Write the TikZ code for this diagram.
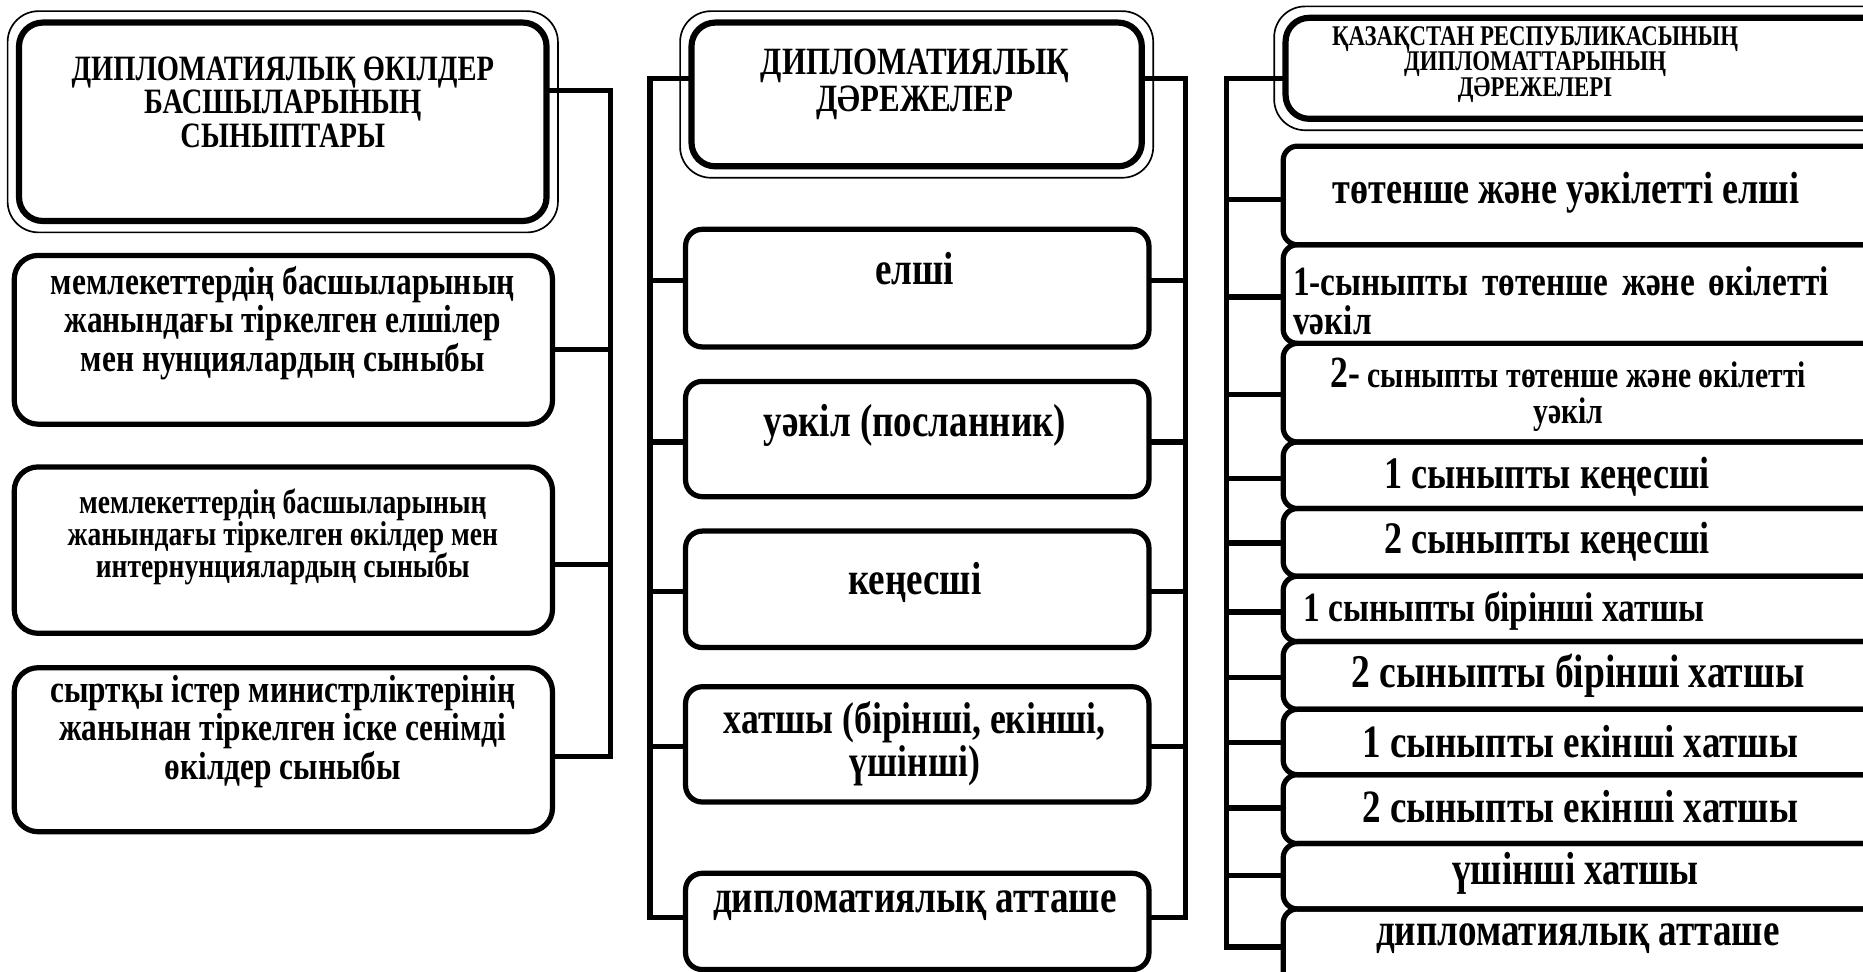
\documentclass[tikz,border=0pt]{standalone}
\usepackage{fontspec}
\setmainfont{Liberation Serif}[FakeStretch=0.8]
\usetikzlibrary{fit,calc}
\newcommand\fs[2]{\fontsize{#1}{#2}\selectfont\bfseries}
\newcommand\tightlines{\lineskiplimit=-20pt\lineskip=0pt}
\begin{document}
\begin{tikzpicture}[x=0.5pt,y=-0.5pt,
  box/.style={draw, line width=2.2pt, inner sep=0pt, rounded corners=10pt},
  cbox/.style={draw, line width=2.2pt, inner sep=0pt, rounded corners=7pt},
  rbox/.style={draw, line width=2.2pt, inner sep=0pt, rounded corners=6pt},
  hbox/.style={draw, line width=2.6pt, inner sep=0pt, rounded corners=10pt},
  outer/.style={line width=0.7pt, rounded corners=13pt},
  conn/.style={line width=2.2pt, line join=miter, line cap=rect},
  txt/.style={align=center, inner sep=0pt},
]
\useasboundingbox (0,0) rectangle (1568,818);
\clip (0,0) rectangle (1568,818);

% ---------- left column ----------
\node[hbox, fit={(16,19) (460,186)}] (LH) {};
\draw[outer] ($(LH.north west)+(-3.5pt,3.5pt)$) rectangle ($(LH.south east)+(3.5pt,-3.5pt)$);
\node[txt, font=\fs{15}{13}] (LHt) at (238,86) {ДИПЛОМАТИЯЛЫҚ ӨКІЛДЕР\\БАСШЫЛАРЫНЫҢ\\СЫНЫПТАРЫ};

\node[box, fit={(12,215) (465,357)}] (L1) {};
\node[txt, font=\fs{16.5}{13.75}] (L1t) at (238,272) {мемлекеттердің басшыларының\\жанындағы тіркелген елшілер\\мен нунциялардың сыныбы};
\node[box, fit={(12,393) (465,533)}] (L2) {};
\node[txt, font=\fs{14.5}{13.5}] (L2t) at (238,452) {мемлекеттердің басшыларының\\жанындағы тіркелген өкілдер мен\\интернунциялардың сыныбы};
\node[box, fit={(12,562) (465,700)}] (L3) {};
\node[txt, font=\fs{16.5}{14.5}] (L3t) at (238,616) {сыртқы істер министрліктерінің\\жанынан тіркелген іске сенімді\\өкілдер сыныбы};

\coordinate (LVt) at (514,76);
\coordinate (LV1) at (514,294);
\coordinate (LV2) at (514,475);
\coordinate (LVb) at (514,637);
\draw[conn] (LH.east |- LVt) -- (LVt) -- (LVb) -- (L3.east |- LVb);
\draw[conn] (L1.east |- LV1) -- (LV1);
\draw[conn] (L2.east |- LV2) -- (LV2);

% ---------- centre column ----------
\node[hbox, fit={(582,19) (961,140)}] (CH) {};
\draw[outer] ($(CH.north west)+(-3.5pt,3.5pt)$) rectangle ($(CH.south east)+(3.5pt,-3.5pt)$);
\node[txt, font=\fs{16.25}{13}] (CHt) at (770,71) {ДИПЛОМАТИЯЛЫҚ\\ДӘРЕЖЕЛЕР};

\node[cbox, fit={(577,193) (967,292)}] (C1) {};
\node[txt, font=\fs{19.5}{14}] (C1t) at (770,226) {елші};
\node[cbox, fit={(577,321) (967,418)}] (C2) {};
\node[txt, font=\fs{19.5}{14}] (C2t) at (770,358) {уәкіл (посланник)};
\node[cbox, fit={(577,447) (967,545)}] (C3) {};
\node[txt, font=\fs{19.5}{14}] (C3t) at (770,490) {кеңесші};
\node[cbox, fit={(577,578) (967,675)}] (C4) {};
\node[txt, font=\fs{18.75}{15}] (C4t) at (770,626) {хатшы (бірінші, екінші,\\үшінші)};
\node[cbox, fit={(577,735) (967,816)}] (C5) {};
\node[txt, font=\fs{19.5}{14}] (C5t) at (770,762) {дипломатиялық атташе};

\coordinate (CLt) at (547,66);
\coordinate (CLb) at (547,772);
\coordinate (CRt) at (998,66);
\coordinate (CRb) at (998,772);
\draw[conn] (CH.west |- CLt) -- (CLt) -- (CLb) -- (C5.west |- CLb);
\draw[conn] (CH.east |- CRt) -- (CRt) -- (CRb) -- (C5.east |- CRb);
\foreach \n/\yy in {C1/236, C2/372, C3/498, C4/628}{
  \coordinate (\n l) at (547,\yy);
  \coordinate (\n r) at (998,\yy);
  \draw[conn] (\n l) -- (\n.west |- \n l);
  \draw[conn] (\n.east |- \n r) -- (\n r);
}

% ---------- right column ----------
\node[hbox, fit={(1082,15) (1600,100)}] (RH) {};
\draw[outer] ($(RH.north west)+(-3.5pt,3.5pt)$) rectangle ($(RH.south east)+(3.5pt,-3.5pt)$);
\node[txt, font=\fs{12}{10.75}\tightlines] (RHt) at (1292,54) {ҚАЗАҚСТАН РЕСПУБЛИКАСЫНЫҢ\\ДИПЛОМАТТАРЫНЫҢ\\ДӘРЕЖЕЛЕРІ};

\node[rbox, fit={(1080,123) (1600,206)}] (R1) {};
\node[txt, font=\fs{19}{14}] (R1t) at (1318,162) {төтенше және уәкілетті елші};
\node[rbox, fit={(1080,206) (1600,289)}] (R2) {};
\node[txt, font=\fs{17.5}{16.5}, text width=221pt, align=left, anchor=west] (R2t) at (1088,253)
  {\makebox[221pt][s]{1-сыныпты төтенше және өкілетті}\\vәкіл};
\node[rbox, fit={(1080,289) (1600,372)}] (R3) {};
\node[txt, font=\fs{15.6}{15}] (R3t) at (1320,332) {{\fontsize{18.75}{15}\selectfont 2-} сыныпты төтенше және өкілетті\\уәкіл};
\node[rbox, fit={(1080,372) (1600,428)}] (R4) {};
\node[txt, font=\fs{19}{14}] (R4t) at (1302,401) {1 сыныпты кеңесші};
\node[rbox, fit={(1080,428) (1600,485)}] (R5) {};
\node[txt, font=\fs{19}{14}] (R5t) at (1302,456) {2 сыныпты кеңесші};
\node[rbox, fit={(1080,485) (1600,540)}] (R6) {};
\node[txt, font=\fs{17.5}{14}] (R6t) at (1266,514) {1 сыныпты бірінші хатшы};
\node[rbox, fit={(1080,540) (1600,597)}] (R7) {};
\node[txt, font=\fs{19.75}{14}] (R7t) at (1328,569) {2 сыныпты бірінші хатшы};
\node[rbox, fit={(1080,597) (1600,652)}] (R8) {};
\node[txt, font=\fs{19.5}{14}] (R8t) at (1330,624) {1 сыныпты екінші хатшы};
\node[rbox, fit={(1080,652) (1600,710)}] (R9) {};
\node[txt, font=\fs{19.5}{14}] (R9t) at (1330,679) {2 сыныпты екінші хатшы};
\node[rbox, fit={(1080,710) (1600,765)}] (R10) {};
\node[txt, font=\fs{19.5}{14}] (R10t) at (1326,735) {үшінші хатшы};
\node[rbox, fit={(1080,765) (1600,830)}] (R11) {};
\node[txt, font=\fs{19.5}{14}] (R11t) at (1328,790) {дипломатиялық атташе};

\coordinate (RVt) at (1032,66);
\coordinate (RVb) at (1032,797);
\draw[conn] (RH.west |- RVt) -- (RVt) -- (RVb) -- (R11.west |- RVb);
\foreach \n/\yy in {R1/168, R2/250, R3/332, R4/403, R5/457, R6/515, R7/570, R8/625, R9/680, R10/737}{
  \coordinate (\n v) at (1032,\yy);
  \draw[conn] (\n v) -- (\n.west |- \n v);
}
\end{tikzpicture}
\end{document}
